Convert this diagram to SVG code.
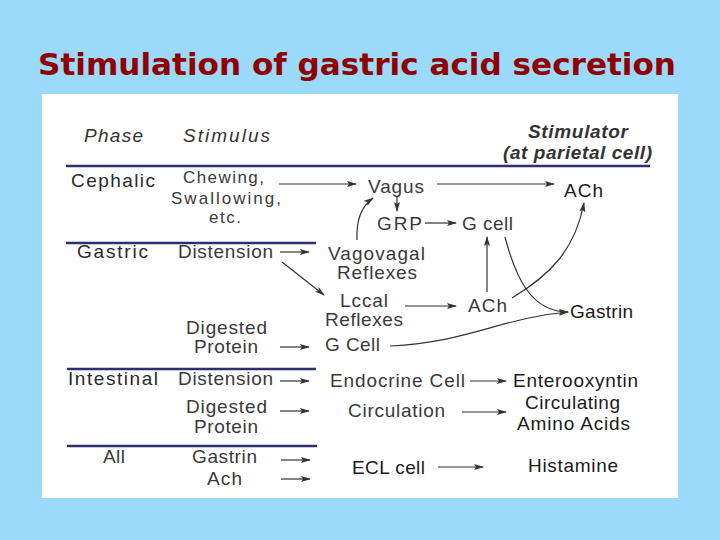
<svg xmlns="http://www.w3.org/2000/svg" width="720" height="540" viewBox="0 0 720 540">
<defs>
<marker id="ah" markerUnits="userSpaceOnUse" markerWidth="10" markerHeight="8" refX="9" refY="4" orient="auto">
<path d="M0,1 L10,4 L0,7 L2,4 z" fill="#333"/>
</marker>
<style>
.t{font-family:"Liberation Sans",Arial,sans-serif;font-size:19px;fill:#3a3a3a}
.s{font-size:17px}
.h{font-family:"Liberation Sans",Arial,sans-serif;font-size:19px;font-style:italic;fill:#333}
.p{font-family:"Liberation Sans",Arial,sans-serif;font-size:19px;fill:#2a2a2a}
.d{font-family:"Liberation Sans",Arial,sans-serif;font-size:19px;fill:#1a1a1a}
.rule{stroke:#2e2f70;stroke-width:2.5;fill:none}
.c{stroke:#333;stroke-width:1.2;fill:none;marker-end:url(#ah)}
</style>
</defs>
<rect x="0" y="0" width="720" height="540" fill="#9bdafa"/>
<text x="38" y="75" font-family="'Comic Sans MS','DejaVu Sans',sans-serif" font-size="31" font-weight="bold" fill="#900000" textLength="638" lengthAdjust="spacingAndGlyphs">Stimulation of gastric acid secretion</text>
<rect x="42" y="94" width="636" height="404" fill="#ffffff"/>

<g id="rules">
<line class="rule" x1="66" y1="166" x2="650" y2="166"/>
<line class="rule" x1="66" y1="243" x2="316" y2="243"/>
<line class="rule" x1="67" y1="369" x2="316" y2="369"/>
<line class="rule" x1="67" y1="446" x2="317" y2="446"/>
</g>

<g id="headers">
<text class="h" x="84" y="142" textLength="59" lengthAdjust="spacing">Phase</text>
<text class="h" x="183" y="142" textLength="87" lengthAdjust="spacing">Stimulus</text>
<text class="h" x="528" y="138" textLength="100" lengthAdjust="spacing" font-weight="bold">Stimulator</text>
<text class="h" x="503" y="159" textLength="149" lengthAdjust="spacing" font-weight="bold">(at parietal cell)</text>
</g>

<g id="phase-cephalic"><text class="p" x="71" y="187" textLength="84" lengthAdjust="spacing">Cephalic</text></g>
<g id="phase-gastric"><text class="p" x="77" y="258" textLength="71" lengthAdjust="spacing">Gastric</text></g>
<g id="phase-intestinal"><text class="p" x="68" y="385" textLength="90" lengthAdjust="spacing">Intestinal</text></g>
<g id="phase-all"><text class="t" x="103" y="463" textLength="22" lengthAdjust="spacing">All</text></g>

<g id="stim-chewing">
<text class="t s" x="183" y="183" textLength="81" lengthAdjust="spacing">Chewing,</text>
<text class="t s" x="171" y="204" textLength="110" lengthAdjust="spacing">Swallowing,</text>
<text class="t s" x="209" y="223" textLength="32" lengthAdjust="spacing">etc.</text>
</g>
<g id="stim-distension-g"><text class="t" x="178" y="258" textLength="95" lengthAdjust="spacing">Distension</text></g>
<g id="stim-protein-g">
<text class="t" x="186" y="334" textLength="81" lengthAdjust="spacing">Digested</text>
<text class="t" x="194" y="353" textLength="64" lengthAdjust="spacing">Protein</text>
</g>
<g id="stim-distension-i"><text class="t" x="178" y="385" textLength="95" lengthAdjust="spacing">Distension</text></g>
<g id="stim-protein-i">
<text class="t" x="186" y="413" textLength="81" lengthAdjust="spacing">Digested</text>
<text class="t" x="194" y="433" textLength="64" lengthAdjust="spacing">Protein</text>
</g>
<g id="stim-gastrin"><text class="t" x="192" y="463" textLength="65" lengthAdjust="spacing">Gastrin</text></g>
<g id="stim-ach"><text class="t" x="207" y="485" textLength="35" lengthAdjust="spacing">Ach</text></g>

<g id="vagus"><text class="t" x="368" y="193" textLength="56" lengthAdjust="spacing">Vagus</text></g>
<g id="grp"><text class="t" x="377" y="230" textLength="45" lengthAdjust="spacing">GRP</text></g>
<g id="gcell-top"><text class="t" x="462" y="230" textLength="51" lengthAdjust="spacing">G cell</text></g>
<g id="vagovagal">
<text class="t" x="328" y="260" textLength="97" lengthAdjust="spacing">Vagovagal</text>
<text class="t" x="337" y="279" textLength="80" lengthAdjust="spacing">Reflexes</text>
</g>
<g id="local">
<text class="t" x="340" y="307" textLength="48" lengthAdjust="spacing">Lccal</text>
<text class="t" x="325" y="326" textLength="78" lengthAdjust="spacing">Reflexes</text>
</g>
<g id="ach-mid"><text class="t" x="468" y="312" textLength="39" lengthAdjust="spacing">ACh</text></g>
<g id="gcell-low"><text class="t" x="325" y="351" textLength="55" lengthAdjust="spacing">G Cell</text></g>
<g id="endocrine"><text class="t" x="330" y="387" textLength="135" lengthAdjust="spacing">Endocrine Cell</text></g>
<g id="circulation"><text class="t" x="348" y="417" textLength="97" lengthAdjust="spacing">Circulation</text></g>
<g id="ecl"><text class="d" x="352" y="474" textLength="73" lengthAdjust="spacing">ECL cell</text></g>

<g id="ach-top"><text class="d" x="564" y="197" textLength="39" lengthAdjust="spacing">ACh</text></g>
<g id="gastrin"><text class="d" x="570" y="318" textLength="63" lengthAdjust="spacing">Gastrin</text></g>
<g id="enterooxyntin"><text class="d" x="513" y="387" textLength="125" lengthAdjust="spacing">Enterooxyntin</text></g>
<g id="amino">
<text class="d" x="525" y="409" textLength="95" lengthAdjust="spacing">Circulating</text>
<text class="d" x="517" y="430" textLength="113" lengthAdjust="spacing">Amino Acids</text>
</g>
<g id="histamine"><text class="d" x="528" y="472" textLength="90" lengthAdjust="spacing">Histamine</text></g>

<g id="connectors">
<line class="c" x1="279" y1="184" x2="356" y2="184"/>
<line class="c" x1="437" y1="184" x2="554" y2="184"/>
<line class="c" x1="397" y1="197" x2="397" y2="211"/>
<line class="c" x1="425" y1="223" x2="456" y2="223"/>
<path class="c" d="M357,240 C356,220 362,206 373,198"/>
<line class="c" x1="280" y1="252" x2="309" y2="252"/>
<line class="c" x1="282" y1="262" x2="324" y2="295"/>
<line class="c" x1="405" y1="306" x2="456" y2="306"/>
<line class="c" x1="487" y1="292" x2="487" y2="237"/>
<path class="c" d="M512,298 C550,275 575,250 584,203"/>
<path class="c" d="M505,237 C515,275 530,312 568,312"/>
<path class="c" d="M390,346 C470,342 500,318 568,312"/>
<line class="c" x1="280" y1="347" x2="309" y2="347"/>
<line class="c" x1="280" y1="381" x2="309" y2="381"/>
<line class="c" x1="280" y1="411" x2="309" y2="411"/>
<line class="c" x1="470" y1="381" x2="506" y2="381"/>
<line class="c" x1="462" y1="412" x2="506" y2="412"/>
<line class="c" x1="281" y1="460" x2="310" y2="460"/>
<line class="c" x1="281" y1="479" x2="310" y2="479"/>
<line class="c" x1="438" y1="467" x2="483" y2="467"/>
</g>
</svg>
